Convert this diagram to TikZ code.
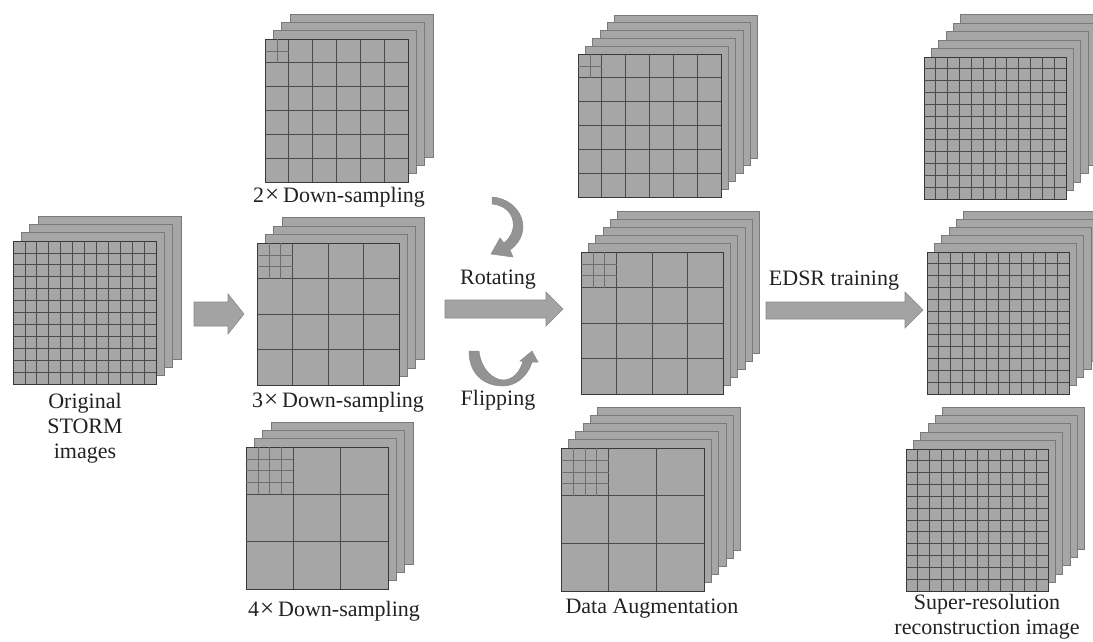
\documentclass[tikz,border=0pt]{standalone}
\usepackage{fontspec}
\setmainfont{Liberation Serif}
\definecolor{layerfill}{HTML}{A6A6A6}
\definecolor{layeredge}{HTML}{7A7A7A}
\definecolor{frontedge}{HTML}{383838}
\definecolor{gridc}{HTML}{4A4A4A}
\definecolor{subc}{HTML}{6E6E6E}
\definecolor{arrowfill}{HTML}{A3A3A3}
\definecolor{arrowedge}{HTML}{8A8A8A}
\definecolor{txt}{HTML}{222222}
\tikzset{
  layer/.style={fill=layerfill,draw=layeredge,line width=0.8pt},
  frontsq/.style={rectangle,fill=layerfill,draw=frontedge,line width=0.9pt,inner sep=0pt,outer sep=0pt},
  gridline/.style={draw=gridc,line width=0.7pt},
  subline/.style={draw=subc,line width=0.6pt},
  blockarrow/.style={fill=arrowfill,draw=arrowedge,line width=0.6pt},
  curvearrow/.style={fill=arrowfill!90!black,draw=arrowedge,line width=0.5pt},
  lbl/.style={font=\fontsize{22}{25}\selectfont,text=txt,inner sep=0pt,align=center}
}
\newcommand{\tms}{\kern1pt{\fontsize{25}{25}\selectfont ×}\kern4pt}
% #1 name, #2 x, #3 y, #4 size, #5 layers, #6 dx, #7 dy, #8 grid n, #9 sub m
\newcommand{\gridstack}[9]{%
  \foreach \k in {#5,...,1}{%
    \draw[layer] ({#2+\k*#6},{#3+\k*#7}) rectangle ++(#4,#4);
  }%
  \node[frontsq,minimum width=#4pt,minimum height=#4pt,anchor=north west] (#1) at (#2,#3) {};
  \pgfmathtruncatemacro\gsn{#8-1}%
  \foreach \i in {1,...,\gsn}{%
    \draw[gridline] ({#2+\i*#4/#8},#3) -- ++(0,#4);
    \draw[gridline] (#2,{#3+\i*#4/#8}) -- ++(#4,0);
  }%
  \ifnum#9>1
    \pgfmathtruncatemacro\gsm{#9-1}%
    \foreach \j in {1,...,\gsm}{%
      \draw[subline] ({#2+\j*#4/#8/#9},#3) -- ++(0,{#4/#8});
      \draw[subline] (#2,{#3+\j*#4/#8/#9}) -- ++({#4/#8},0);
    }%
  \fi
}
\begin{document}
\begin{tikzpicture}[x=1pt,y=-1pt]
\useasboundingbox (0,0) rectangle (1093,641);
\fill[white] (0,0) rectangle (1093,641);

% column 1
\gridstack{orig}{13}{241}{143}{3}{8.3}{-8.2}{12}{1}
% column 2
\gridstack{dsa}{265}{39}{143}{3}{8.3}{-8.3}{6}{2}
\gridstack{dsb}{257}{243}{142}{3}{8.3}{-8.5}{4}{3}
\gridstack{dsc}{246}{447}{142}{3}{8.3}{-8.2}{3}{4}
% column 3
\gridstack{auga}{578}{54}{143}{5}{7.3}{-7.8}{6}{2}
\gridstack{augb}{581}{252}{142}{5}{7.3}{-8.2}{4}{3}
\gridstack{augc}{561}{448}{143}{5}{7.3}{-8.2}{3}{4}
% column 4
\gridstack{sra}{924}{57}{142}{5}{7.3}{-8.5}{12}{1}
\gridstack{srb}{927}{252}{142}{5}{7.3}{-8.2}{12}{1}
\gridstack{src}{906}{449}{142}{5}{7.3}{-8.4}{12}{1}

% block arrows
\coordinate (a1t) at (244,314);
\draw[blockarrow] (194,302) -- (228,302) -- (228,294) -- (a1t) -- (228,334) -- (228,326) -- (194,326) -- cycle;
\coordinate (a2t) at (563,309);
\draw[blockarrow] (445,300) -- (546,300) -- (546,292) -- (a2t) -- (546,326) -- (546,318) -- (445,318) -- cycle;
\coordinate (a3t) at (923,310);
\draw[blockarrow] (766,302) -- (905,302) -- (905,292) -- (a3t) -- (905,328) -- (905,319) -- (766,319) -- cycle;

% rotating arrow
\draw[curvearrow] (492,197) .. controls (521,199) and (535,232) .. (510,250) -- (513,257) -- (491,254) -- (500,238) -- (504,243) .. controls (520,230) and (515,206) .. (492,204) -- cycle;
% flipping arrow
\draw[curvearrow] (469,351) -- (479,351) .. controls (481,370) and (494,380) .. (503,380) .. controls (513,380) and (520,372) .. (523,361) -- (520,361) -- (532,351) -- (538,362) -- (532,362) .. controls (528,376) and (516,386) .. (503,386) .. controls (485,386) and (469,375) .. (469,351) -- cycle;

% labels
\node[lbl] (lorig) at (85,428) {Original\\STORM\\images};
\node[lbl] (ldsa) at (339,197) {2\tms Down-sampling};
\node[lbl] (ldsb) at (338,402) {3\tms Down-sampling};
\node[lbl] (ldsc) at (334,611) {4\tms Down-sampling};
\node[lbl] (lrot) at (498,280) {Rotating};
\node[lbl] (lflip) at (498,400) {Flipping};
\node[lbl] (laug) at (652,609) {Data Augmentation};
\node[lbl] (ledsr) at (834,281) {EDSR training};
\node[lbl] (lsr) at (987,617) {Super-resolution\\reconstruction image};
\end{tikzpicture}
\end{document}
